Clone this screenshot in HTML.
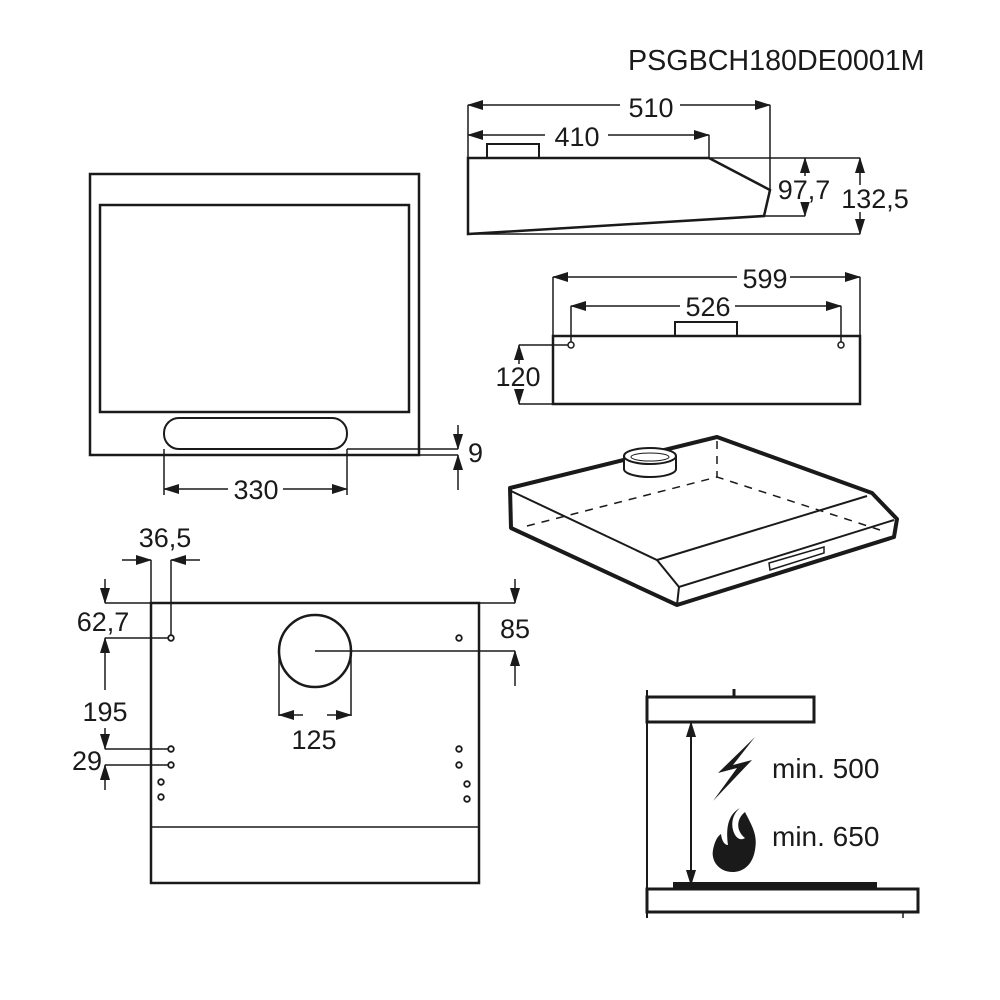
<!DOCTYPE html>
<html><head><meta charset="utf-8"><style>
html,body{margin:0;padding:0;background:#fff;}
svg{display:block;}
text{font-family:"Liberation Sans",Arial,sans-serif;fill:#1a1a1a;}
</style></head><body>
<svg width="1000" height="1000" viewBox="0 0 1000 1000" xmlns="http://www.w3.org/2000/svg">
<defs>
<marker id="a" markerUnits="userSpaceOnUse" markerWidth="16" markerHeight="10" refX="15" refY="5" orient="auto-start-reverse"><path d="M0,0 L16,5 L0,10 z" fill="#1a1a1a"/></marker>
</defs>
<g stroke="#1a1a1a" fill="none" stroke-width="1.5">
<text x="628" y="70" font-size="28.7" stroke="none">PSGBCH180DE0001M</text>

<!-- top-left front panel -->
<rect x="90" y="174" width="329" height="281" stroke-width="2.5"/>
<rect x="100" y="205" width="309" height="207" stroke-width="2.5"/>
<rect x="164" y="418" width="183" height="31" rx="15" stroke-width="2"/>
<line x1="347" y1="449" x2="458" y2="449"/>
<line x1="419" y1="455" x2="458" y2="455"/>
<line x1="458" y1="425" x2="458" y2="449" marker-end="url(#a)"/>
<line x1="458" y1="490" x2="458" y2="455" marker-end="url(#a)"/>
<text x="468" y="462" font-size="27" stroke="none">9</text>
<line x1="164" y1="449" x2="164" y2="495"/>
<line x1="347" y1="449" x2="347" y2="495"/>
<line x1="228" y1="489" x2="164" y2="489" marker-end="url(#a)"/>
<line x1="283" y1="489" x2="347" y2="489" marker-end="url(#a)"/>
<rect x="228" y="475" width="55" height="28" fill="#fff" stroke="none"/>
<text x="256" y="499" font-size="27" text-anchor="middle" stroke="none">330</text>

<!-- side view -->
<path d="M468,158 L709,158 L770,190 L764,216 L468,234 Z" stroke-width="2.5"/>
<rect x="487" y="144" width="52" height="14" stroke-width="2"/>
<line x1="709" y1="158" x2="860" y2="158"/>
<line x1="468" y1="234" x2="860" y2="234"/>
<line x1="764" y1="216" x2="805" y2="216"/>
<line x1="770" y1="105" x2="770" y2="190"/>
<line x1="709" y1="135" x2="709" y2="158"/>
<line x1="468" y1="105" x2="468" y2="158"/>
<line x1="620" y1="105" x2="468" y2="105" marker-end="url(#a)"/>
<line x1="680" y1="105" x2="770" y2="105" marker-end="url(#a)"/>
<text x="651" y="117" font-size="27" text-anchor="middle" stroke="none">510</text>
<line x1="545" y1="135" x2="468" y2="135" marker-end="url(#a)"/>
<line x1="608" y1="135" x2="709" y2="135" marker-end="url(#a)"/>
<text x="577" y="146" font-size="27" text-anchor="middle" stroke="none">410</text>
<line x1="805" y1="178" x2="805" y2="158" marker-end="url(#a)"/>
<line x1="805" y1="200" x2="805" y2="216" marker-end="url(#a)"/>
<rect x="778" y="176" width="52" height="26" fill="#fff" stroke="none"/>
<text x="804" y="199" font-size="27" text-anchor="middle" stroke="none">97,7</text>
<line x1="860" y1="185" x2="860" y2="158" marker-end="url(#a)"/>
<line x1="860" y1="210" x2="860" y2="234" marker-end="url(#a)"/>
<rect x="840" y="186" width="72" height="26" fill="#fff" stroke="none"/>
<text x="875" y="208" font-size="27" text-anchor="middle" stroke="none">132,5</text>

<!-- front view -->
<rect x="553" y="336" width="307" height="68" stroke-width="2.5"/>
<rect x="675" y="322" width="62" height="14" stroke-width="2"/>
<circle cx="571" cy="345" r="3" stroke-width="1.5"/>
<circle cx="841" cy="345" r="3" stroke-width="1.5"/>
<line x1="553" y1="277" x2="553" y2="336"/>
<line x1="860" y1="277" x2="860" y2="336"/>
<line x1="737" y1="277" x2="553" y2="277" marker-end="url(#a)"/>
<line x1="790" y1="277" x2="860" y2="277" marker-end="url(#a)"/>
<text x="765" y="288" font-size="27" text-anchor="middle" stroke="none">599</text>
<line x1="571" y1="306" x2="571" y2="342"/>
<line x1="841" y1="306" x2="841" y2="342"/>
<line x1="680" y1="306" x2="571" y2="306" marker-end="url(#a)"/>
<line x1="735" y1="306" x2="841" y2="306" marker-end="url(#a)"/>
<text x="708" y="316" font-size="27" text-anchor="middle" stroke="none">526</text>
<line x1="519" y1="345" x2="568" y2="345"/>
<line x1="519" y1="404" x2="553" y2="404"/>
<line x1="519" y1="365" x2="519" y2="345" marker-end="url(#a)"/>
<line x1="519" y1="388" x2="519" y2="404" marker-end="url(#a)"/>
<rect x="495" y="364" width="48" height="25" fill="#fff" stroke="none"/>
<text x="518" y="386" font-size="27" text-anchor="middle" stroke="none">120</text>

<!-- iso view -->
<path d="M510,488 L717,437 L872,493 L897,519 L894,537 L677,605 L511,528 Z" stroke-width="4" stroke-linejoin="round"/>
<path d="M511,491 L657,560 L867,496" stroke-width="2"/>
<path d="M657,560 L679,587 L894,520" stroke-width="2"/>
<line x1="679" y1="587" x2="677" y2="605" stroke-width="2"/>
<path d="M527,526 L717,477 L880,530" stroke-dasharray="8,7"/>
<line x1="717" y1="441" x2="717" y2="477" stroke-dasharray="8,7"/>
<path d="M624,456 L624,469 A26,8 0 0 0 676,469 L676,456" fill="#fff" stroke-width="2"/>
<ellipse cx="650" cy="456" rx="26" ry="8" fill="#fff" stroke-width="2"/>
<ellipse cx="650" cy="457" rx="19" ry="4" stroke-width="1"/>
<path d="M769,563 L824,547 L824,553 L770,570 Z" stroke-width="1.5"/>

<!-- bottom-left plan -->
<rect x="151" y="603" width="328" height="280" stroke-width="2.5"/>
<line x1="151" y1="827" x2="479" y2="827"/>
<circle cx="315" cy="651" r="36" stroke-width="2.5"/>
<line x1="315" y1="651" x2="515" y2="651"/>
<line x1="279" y1="651" x2="279" y2="716"/>
<line x1="351" y1="651" x2="351" y2="716"/>
<line x1="303" y1="715" x2="279" y2="715" marker-end="url(#a)"/>
<line x1="327" y1="715" x2="351" y2="715" marker-end="url(#a)"/>
<text x="314" y="749" font-size="27" text-anchor="middle" stroke="none">125</text>
<line x1="105" y1="603" x2="515" y2="603"/>
<line x1="515" y1="579" x2="515" y2="603" marker-end="url(#a)"/>
<line x1="515" y1="686" x2="515" y2="651" marker-end="url(#a)"/>
<text x="515" y="638" font-size="27" text-anchor="middle" stroke="none">85</text>
<line x1="105" y1="579" x2="105" y2="603" marker-end="url(#a)"/>
<text x="103" y="631" font-size="27" text-anchor="middle" stroke="none">62,7</text>
<line x1="105" y1="638" x2="168" y2="638"/>
<line x1="105" y1="690" x2="105" y2="638" marker-end="url(#a)"/>
<text x="105" y="721" font-size="27" text-anchor="middle" stroke="none">195</text>
<line x1="105" y1="728" x2="105" y2="749" marker-end="url(#a)"/>
<line x1="105" y1="749" x2="168" y2="749"/>
<line x1="105" y1="765" x2="168" y2="765"/>
<line x1="105" y1="790" x2="105" y2="765" marker-end="url(#a)"/>
<text x="87" y="770" font-size="27" text-anchor="middle" stroke="none">29</text>
<line x1="151" y1="560" x2="151" y2="603"/>
<line x1="171" y1="560" x2="171" y2="635"/>
<line x1="122" y1="560" x2="151" y2="560" marker-end="url(#a)"/>
<line x1="200" y1="560" x2="171" y2="560" marker-end="url(#a)"/>
<text x="165" y="547" font-size="27" text-anchor="middle" stroke="none">36,5</text>
<g stroke-width="1.8">
<circle cx="171" cy="638" r="2.8"/><circle cx="171" cy="749" r="2.8"/><circle cx="171" cy="765" r="2.8"/>
<circle cx="161" cy="782" r="2.8"/><circle cx="161" cy="797" r="2.8"/>
<circle cx="459" cy="638" r="2.8"/><circle cx="459" cy="749" r="2.8"/><circle cx="459" cy="765" r="2.8"/>
<circle cx="467" cy="784" r="2.8"/><circle cx="467" cy="799" r="2.8"/>
</g>

<!-- clearance -->
<line x1="647" y1="690" x2="647" y2="918" stroke-width="2"/>
<line x1="734" y1="689" x2="734" y2="697" stroke-width="3"/>
<rect x="647" y="697" width="167" height="25" stroke-width="3"/>
<line x1="691" y1="722" x2="691" y2="885" stroke-width="2" marker-start="url(#a)" marker-end="url(#a)"/>
<rect x="673" y="882" width="204" height="7" fill="#1a1a1a" stroke="none"/>
<rect x="647" y="889" width="271" height="23" stroke-width="3"/>
<line x1="903" y1="912" x2="903" y2="918"/>
<path d="M755,737 L718,773 L737,768 L713,801 L752,760 L733,765 Z" fill="#1a1a1a" stroke="none"/>
<path d="M740,808 C725,820 735,845 745,838 C735,830 737,818 745,812 C752,826 758,835 755,850 C752,868 740,872 733,872 C718,872 711,860 713,850 C715,840 718,836 721,834 C722,842 725,845 728,845 C726,830 727,815 740,808 Z" fill="#1a1a1a" stroke="none"/>
<text x="772" y="778" font-size="28" stroke="none">min. 500</text>
<text x="772" y="846" font-size="28" stroke="none">min. 650</text>
</g>
</svg>
</body></html>
